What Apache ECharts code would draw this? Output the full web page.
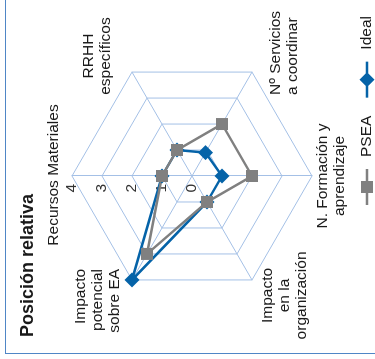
<!DOCTYPE html>
<html>
<head>
<meta charset="utf-8">
<script src="https://cdn.jsdelivr.net/npm/echarts@6/dist/echarts.min.js"></script>
<style>
html,body{margin:0;padding:0;width:375px;height:359px;overflow:hidden;background:#fff;}
#wrap{position:absolute;left:8px;top:-8px;width:359px;height:375px;transform:rotate(-90deg);transform-origin:50% 50%;}
#chart{position:absolute;left:0;top:0;width:359px;height:375px;}
#frame{position:absolute;left:5px;top:-10px;width:420px;height:363px;border-left:1.5px solid #4f86c6;border-bottom:1.5px solid #4f86c6;}
</style>
</head>
<body>
<div id="frame"></div>
<div id="wrap"><div id="chart"></div></div>
<script>
// ---- data ----
const indicatorNames = ['Recursos Materiales', 'Impacto\npotencial\nsobre EA', 'Impacto\nen la\norganización', 'N. Formación y\naprendizaje', 'Nº Servicios\na coordinar', 'RRHH\nespecíficos'];
const pseaValues = [1, 3, 1, 2, 2, 1];
const idealValues = [1, 4, 1, 1, 0.9, 1];
const seriesNames = ['PSEA', 'Ideal'];
const axisMax = 4;
const axisSplits = 4;
const titleText = 'Posición relativa';

// ---- layout / style of indicator names ----
const nameStyles = [
  {align: 'center', verticalAlign: 'bottom', padding: [0, 0, 1.5, 2]},
  {align: 'right', verticalAlign: 'bottom', padding: [0, 15, 24, 0]},
  {align: 'center', verticalAlign: 'top', padding: [22.6, 83, 0, 0]},
  {align: 'center', verticalAlign: 'top', padding: [32.6, 0, 0, 0]},
  {align: 'left', verticalAlign: 'top', padding: [30.3, 0, 0, 3.1]},
  {align: 'center', verticalAlign: 'bottom', padding: [0, 0, 33, 84]}
];

const BLUE = '#0563a8';
const GRAY = '#808080';
const GRID = '#a4c0e6';
const FONT = '"Liberation Sans", Arial, Helvetica, sans-serif';

const indicator = indicatorNames.map((n, i) => {
  const o = {name: n, max: axisMax, min: 0, nameTextStyle: nameStyles[i]};
  if (i === 0) {
    o.axisLabel = {show: true, fontSize: 15.5, color: '#333', fontFamily: FONT, margin: 8};
  }
  return o;
});

const chart = echarts.init(document.getElementById('chart'), null, {renderer: 'canvas'});
chart.setOption({
  animation: false,
  title: {
    text: titleText, left: 22, top: 19, padding: 0,
    textStyle: {fontSize: 18, fontWeight: 'bold', color: '#1a1a1a', fontFamily: FONT}
  },
  legend: {
    data: [
      {name: seriesNames[0], icon: 'path://M0,4.75 L36,4.75 L36,7.25 L0,7.25 Z M12,0 L24,0 L24,12 L12,12 Z'},
      {name: seriesNames[1], icon: 'path://M0,6.25 L36,6.25 L36,8.75 L0,8.75 Z M18,0 L25.5,7.5 L18,15 L10.5,7.5 Z'}
    ],
    left: 154, top: 359, padding: 0, itemWidth: 36, itemHeight: 15, itemGap: 18,
    textStyle: {fontSize: 15.5, lineHeight: 15, color: '#1a1a1a', fontFamily: FONT, padding: [0, 0, 0, 7]}
  },
  radar: {
    center: [183, 192],
    radius: 120,
    startAngle: 90,
    shape: 'polygon',
    splitNumber: axisSplits,
    nameGap: -30,
    axisName: {color: '#1a1a1a', fontSize: 15.5, lineHeight: 17, fontFamily: FONT},
    axisLine: {lineStyle: {color: GRID, width: 1}},
    splitLine: {lineStyle: {color: GRID, width: 1}},
    splitArea: {show: false},
    axisTick: {show: false},
    axisLabel: {show: false},
    indicator: indicator
  },
  series: [{
    type: 'radar',
    data: [
      {
        name: seriesNames[1], value: idealValues,
        symbol: 'diamond', symbolSize: 15,
        lineStyle: {color: BLUE, width: 2.5},
        itemStyle: {color: BLUE}
      },
      {
        name: seriesNames[0], value: pseaValues,
        symbol: 'rect', symbolSize: 12,
        lineStyle: {color: GRAY, width: 2.5},
        itemStyle: {color: GRAY}
      }
    ]
  }]
});
</script>
</body>
</html>
